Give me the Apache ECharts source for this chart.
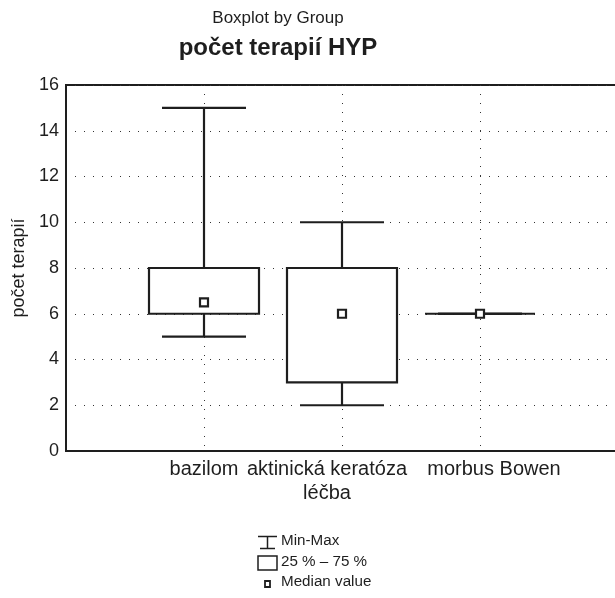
<!DOCTYPE html>
<html>
<head>
<meta charset="utf-8">
<script src="https://cdn.jsdelivr.net/npm/echarts@6/dist/echarts.min.js"></script>
<style>
  html, body { margin: 0; padding: 0; background: #fff; }
  #main { width: 615px; height: 598px; }
</style>
</head>
<body>
<div id="main"></div>
<script>
// box statistics per group
const categories = ["bazilom", "aktinická keratóza", "morbus Bowen"];
const minVals = [5, 2, 6];
const q1Vals = [6, 3, 6];
const medianVals = [6.5, 6, 6];
const q3Vals = [8, 8, 6];
const maxVals = [15, 10, 6];

const yMin = 0;
const yMax = 16;
const yStep = 2;

const ink = "#1e1e1e";
const font = "Liberation Sans, Arial, sans-serif";

// labels are nudged sideways so the long ones do not collide
const labelPadding = [[0, 0, 0, 0], [0, 30, 0, 0], [0, 0, 0, 28]];

// padded category list so the groups sit at 1..3 on a 0..4 axis
const xData = [""].concat(
  categories.map((c, i) => ({ value: c, textStyle: { padding: labelPadding[i] } })),
  [""]
);
const boxData = categories.map((c, i) => [
  i + 1, minVals[i], q1Vals[i], medianVals[i], q3Vals[i], maxVals[i]
]);

function renderBox(params, api) {
  const x = api.value(0);
  const pMin = api.coord([x, api.value(1)]);
  const pQ1 = api.coord([x, api.value(2)]);
  const pMed = api.coord([x, api.value(3)]);
  const pQ3 = api.coord([x, api.value(4)]);
  const pMax = api.coord([x, api.value(5)]);
  const cx = pMin[0];
  const boxHalf = 55;
  const capHalf = 42;
  const line = { stroke: ink, lineWidth: 2.2, fill: null };
  return {
    type: "group",
    children: [
      { type: "line", shape: { x1: cx, y1: pMax[1], x2: cx, y2: pQ3[1] }, style: line },
      { type: "line", shape: { x1: cx, y1: pQ1[1], x2: cx, y2: pMin[1] }, style: line },
      { type: "line", shape: { x1: cx - capHalf, y1: pMax[1], x2: cx + capHalf, y2: pMax[1] }, style: line },
      { type: "line", shape: { x1: cx - capHalf, y1: pMin[1], x2: cx + capHalf, y2: pMin[1] }, style: line },
      {
        type: "rect",
        shape: { x: cx - boxHalf, y: pQ3[1], width: boxHalf * 2, height: pQ1[1] - pQ3[1] },
        style: { stroke: ink, lineWidth: 2.2, fill: "#fff" }
      },
      {
        type: "rect",
        shape: { x: cx - 4, y: pMed[1] - 4, width: 8, height: 8 },
        style: { stroke: ink, lineWidth: 2.2, fill: "#fff" }
      }
    ]
  };
}

const chart = echarts.init(document.getElementById("main"));

const option = {
  animation: false,
  backgroundColor: "#fff",
  textStyle: { fontFamily: font, color: ink },
  title: [
    {
      text: "Boxplot by Group",
      left: 273, top: 5, textAlign: "center",
      textStyle: { fontFamily: font, fontSize: 17, fontWeight: "normal", color: ink }
    },
    {
      text: "počet terapií HYP",
      left: 273, top: 31, textAlign: "center",
      textStyle: { fontFamily: font, fontSize: 24, fontWeight: "bold", color: ink }
    }
  ],
  grid: {
    left: 66, top: 85, width: 552, height: 366,
    outerBoundsMode: "none",
    show: true, borderColor: ink, borderWidth: 2, backgroundColor: "transparent"
  },
  xAxis: {
    type: "category",
    data: xData,
    boundaryGap: false,
    name: "léčba",
    nameLocation: "middle",
    nameGap: 25,
    nameTextStyle: { fontFamily: font, fontSize: 20, color: ink, padding: [0, 30, 0, 0] },
    axisLine: { show: true, lineStyle: { color: ink, width: 2 } },
    axisTick: { show: false },
    axisLabel: { fontFamily: font, fontSize: 20, color: ink, margin: 8, interval: 0, hideOverlap: false },
    splitLine: {
      show: true,
      interval: (i) => i > 0 && i < xData.length - 1,
      lineStyle: { color: "#333", width: 1, type: [1, 8] }
    }
  },
  yAxis: {
    type: "value",
    min: yMin, max: yMax, interval: yStep,
    name: "počet terapií",
    nameLocation: "middle",
    nameRotate: 90,
    nameGap: 37,
    nameTextStyle: { fontFamily: font, fontSize: 18, color: ink },
    axisLine: { show: true, lineStyle: { color: ink, width: 2 } },
    axisTick: { show: false },
    axisLabel: { fontFamily: font, fontSize: 18, color: ink, margin: 7 },
    splitLine: {
      show: true,
      lineStyle: { color: "#333", width: 1, type: [1, 8] }
    }
  },
  series: [
    {
      type: "custom",
      renderItem: renderBox,
      data: boxData,
      encode: { x: 0, y: [1, 2, 3, 4, 5] },
      clip: false,
      z: 5
    }
  ],
  graphic: [
    // legend
    { type: "line", shape: { x1: 258, y1: 536.5, x2: 277, y2: 536.5 }, style: { stroke: ink, lineWidth: 1.5 } },
    { type: "line", shape: { x1: 267.5, y1: 536.5, x2: 267.5, y2: 548.5 }, style: { stroke: ink, lineWidth: 1.5 } },
    { type: "line", shape: { x1: 260, y1: 548.5, x2: 275, y2: 548.5 }, style: { stroke: ink, lineWidth: 1.5 } },
    { type: "rect", shape: { x: 258, y: 556, width: 19, height: 14 }, style: { stroke: ink, lineWidth: 1.5, fill: "#fff" } },
    { type: "rect", shape: { x: 265, y: 581, width: 5, height: 6 }, style: { stroke: ink, lineWidth: 1.8, fill: "#fff" } },
    { type: "text", x: 281, y: 541, style: { text: "Min-Max", fontFamily: font, fontSize: 15.2, fill: ink, verticalAlign: "middle" } },
    { type: "text", x: 281, y: 562, style: { text: "25 % – 75 %", fontFamily: font, fontSize: 15.2, fill: ink, verticalAlign: "middle" } },
    { type: "text", x: 281, y: 582, style: { text: "Median value", fontFamily: font, fontSize: 15.2, fill: ink, verticalAlign: "middle" } }
  ]
};

chart.setOption(option);
</script>
</body>
</html>
